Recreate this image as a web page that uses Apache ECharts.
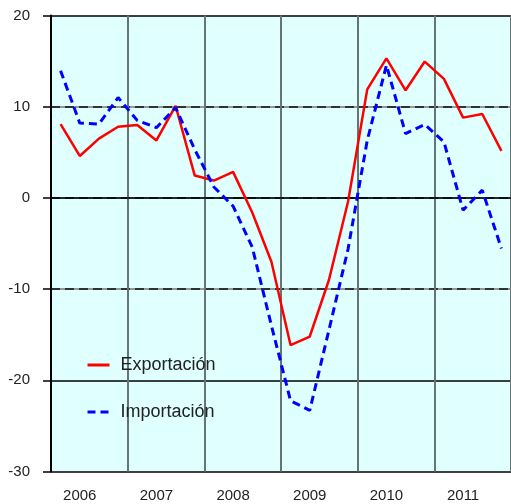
<!DOCTYPE html>
<html>
<head>
<meta charset="utf-8">
<script src="https://cdn.jsdelivr.net/npm/echarts@6/dist/echarts.min.js"></script>
<style>html,body{margin:0;padding:0;background:#fff}#c{width:511px;height:504px}</style>
</head>
<body>
<div id="c"></div>
<script>
var years = ['2006', '2007', '2008', '2009', '2010', '2011'];
var quarters = ['T1', 'T2', 'T3', 'T4'];
var exportacion = [8.1, 4.6, 6.5, 7.8, 8.0, 6.3, 10.1, 2.45, 1.9, 2.85, -1.6, -7.0, -16.15, -15.2, -9.0, -0.4, 11.9, 15.3, 11.8, 14.95, 13.05, 8.8, 9.2, 5.15];
var importacion = [13.95, 8.2, 8.1, 11.0, 8.5, 7.7, 9.9, 5.3, 1.2, -0.9, -5.4, -14.0, -22.25, -23.3, -14.5, -5.6, 6.3, 14.55, 7.05, 8.05, 6.15, -1.35, 0.85, -5.55];
var yTicks = [-30, -20, -10, 0, 10, 20];

var categories = [];
years.forEach(function (y) { quarters.forEach(function (q) { categories.push(y + ' ' + q); }); });

var font = 'Liberation Sans, Arial, sans-serif';
var chart = echarts.init(document.getElementById('c'), null, {renderer: 'canvas'});
chart.setOption({
  animation: false,
  backgroundColor: '#fff',
  grid: {left: 51, top: 15.5, right: -1, bottom: 32.5, show: true, backgroundColor: '#E0FFFF', borderWidth: 0},
  legend: {
    orient: 'vertical', left: 86, top: 356, padding: 0, itemWidth: 22, itemHeight: 14, itemGap: 29,
    itemStyle: {opacity: 0},
    lineStyle: {width: 3},
    textStyle: {fontSize: 18, fontFamily: font, color: '#222', padding: [0, 0, 0, 6]},
    data: ['Exportación', 'Importación']
  },
  xAxis: {
    type: 'category', data: categories, boundaryGap: true,
    axisLine: {show: true, lineStyle: {color: '#000', width: 1.5}},
    axisTick: {show: false},
    axisLabel: {
      interval: function (i) { return i % 4 === 1; },
      formatter: function (v) { return v.split(' ')[0]; },
      fontSize: 15, fontFamily: font, color: '#222', margin: 17
    },
    splitLine: {show: true, interval: function (i) { return i % 4 === 0 && i > 0; }, lineStyle: {color: '#657575', width: 2}}
  },
  yAxis: [{
    type: 'value', min: yTicks[0], max: yTicks[yTicks.length - 1], interval: 10,
    axisLine: {show: true, lineStyle: {color: '#000', width: 2}},
    axisTick: {show: true, length: 8, lineStyle: {color: '#000', width: 1.5}},
    axisLabel: {fontSize: 15, fontFamily: font, color: '#222', margin: 21},
    splitLine: {show: true, lineStyle: {color: ['#000', '#000', '#777', '#777', '#777', '#000'], width: 1.5}}
  }, {
    type: 'value', min: yTicks[0], max: yTicks[yTicks.length - 1], interval: 10, position: 'left',
    axisLine: {show: false}, axisTick: {show: false}, axisLabel: {show: false},
    splitLine: {show: true, lineStyle: {color: ['rgba(0,0,0,0)', 'rgba(0,0,0,0)', '#111', '#111', '#111', 'rgba(0,0,0,0)'], width: 1.5, type: [9, 5]}}
  }],
  series: [{
    name: 'Exportación', type: 'line', data: exportacion, symbol: 'none', z: 3,
    lineStyle: {color: '#FF0000', width: 2.5}, itemStyle: {color: '#FF0000'}
  }, {
    name: 'Importación', type: 'line', data: importacion, symbol: 'none', z: 4,
    lineStyle: {color: '#0000FF', width: 3, type: [8, 5]}, itemStyle: {color: '#0000FF'}
  }]
});
</script>
</body>
</html>
